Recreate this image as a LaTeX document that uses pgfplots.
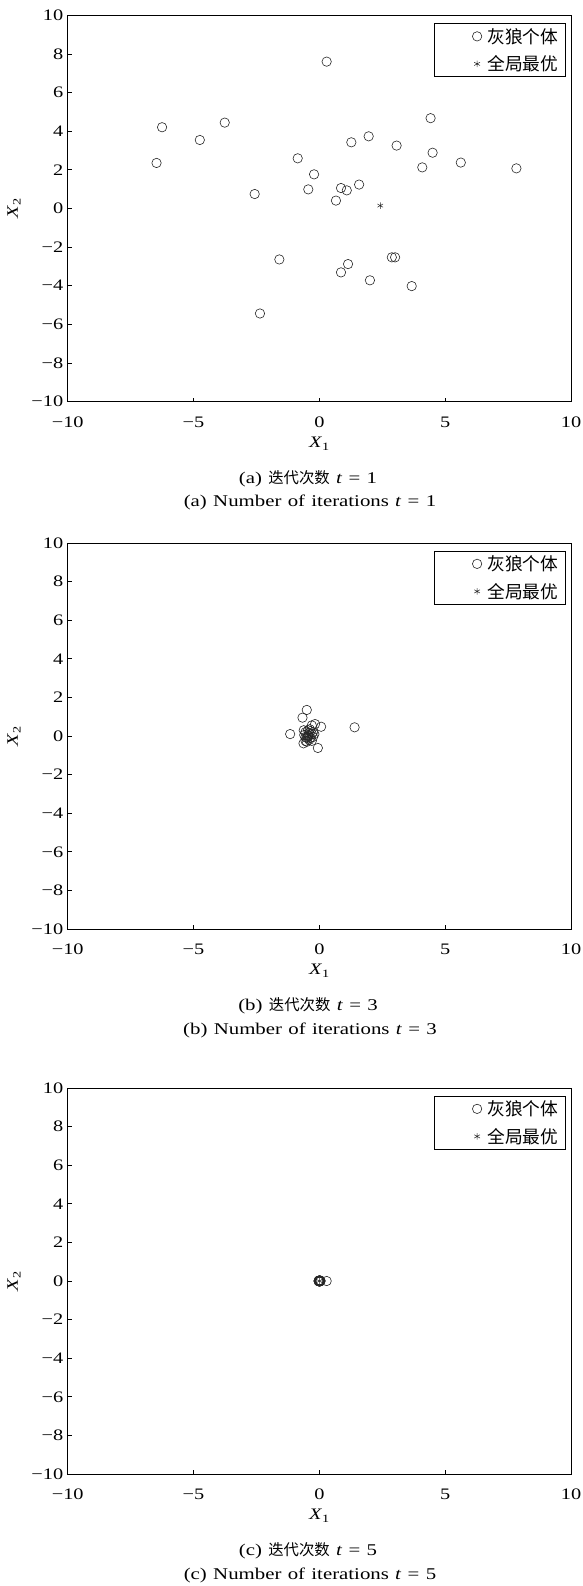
\documentclass[border=0pt]{standalone}
\usepackage{fontspec}
\setmainfont{Liberation Serif}[FakeStretch=1.27]
\newfontfamily\cjk{Noto Sans CJK SC}
\usepackage{pgfplots}
\pgfplotsset{compat=1.18}
\newcommand{\fs}{\fontsize{16}{19}\selectfont}
\newcommand{\cj}[1]{{\fontsize{15.4}{19}\selectfont\cjk #1}}
\newcommand{\capfont}{\fontsize{16.4}{19}\selectfont\spaceskip=6.3pt\relax}
\pgfplotsset{
  wolf/.style={
    scale only axis,
    width=503.3pt, height=386pt,
    xmin=-10, xmax=10, ymin=-10, ymax=10,
    xtick={-10,-5,0,5,10},
    xticklabels={−10,−5,0,5,10},
    ytick={-10,-8,-6,-4,-2,0,2,4,6,8,10},
    yticklabels={−10,−8,−6,−4,−2,0,2,4,6,8,10},
    tick align=inside,
    tick pos=left,
    major tick length=4pt,
    tick style={black, line width=0.8pt},
    axis line style={line width=0.9pt},
    ticklabel style={font=\fs},
    xticklabel style={yshift=-11.5pt},
    yticklabel style={xshift=-1pt},
    xlabel={\textit{X}\textsubscript{1}},
    ylabel={\textit{X}\textsubscript{2}},
    every axis x label/.style={at={(axis description cs:0.5,0)}, anchor=center, yshift=-42pt, font=\fs},
    every axis y label/.style={at={(axis description cs:-0.1067,0.5)}, anchor=center, rotate=90, font=\fs},
    legend style={at={(axis description cs:0.9895,0.98)}, anchor=north east,
      draw=black, line width=0.8pt, font=\fontsize{17.7}{20}\selectfont\cjk,
      inner xsep=5pt, inner ysep=2.5pt, row sep=7pt},
    legend cell align=left,
    legend image code/.code={%
      \path (0pt,0pt) (45pt,0pt);
      \draw[##1] plot coordinates {(37pt,0pt)};},
  },
  wolfmark/.style={only marks, mark=o, mark size=4.7pt, black!85, mark options={line width=0.6pt}},
  bestmark/.style={only marks, mark=asterisk, mark size=3.3pt, black!85, mark options={line width=0.5pt}},
}
\begin{document}
\begin{tikzpicture}[x=1pt,y=1pt]
\useasboundingbox (0,0) rectangle (582,-1586);
% ---------------- (a)
\begin{axis}[wolf, at={(67.7pt,-15.5pt)}, anchor=north west]
\addplot[wolfmark] coordinates {
(0.29,7.61) (-6.25,4.21) (-4.75,3.55) (-3.76,4.45) (-6.47,2.36)
(-0.86,2.60) (-0.21,1.77) (-2.57,0.75) (-0.44,0.99) (0.86,1.06)
(1.09,0.94) (0.66,0.41) (1.58,1.24) (1.27,3.43) (1.96,3.74)
(3.07,3.26) (4.42,4.68) (4.50,2.89) (4.09,2.13) (5.62,2.38)
(7.83,2.08) (-1.59,-2.64) (-2.36,-5.44) (2.88,-2.53) (3.01,-2.53)
(1.14,-2.88) (0.86,-3.31) (2.01,-3.72) (3.67,-4.02)
};
\addlegendentry{灰狼个体}
\addplot[bestmark] coordinates {(2.42,0.15)};
\addlegendentry{全局最优}
\end{axis}
% ---------------- (b)
\begin{axis}[wolf, at={(67.7pt,-543pt)}, anchor=north west]
\addplot[wolfmark] coordinates {
(-0.50,1.35) (-0.67,0.95) (-1.16,0.10) (1.40,0.45) (-0.06,-0.62)
(0.07,0.48) (-0.17,0.62) (-0.30,0.55) (-0.63,-0.38)
(-0.55,0.20) (-0.45,0.30) (-0.35,0.25) (-0.30,0.10) (-0.50,-0.10)
(-0.40,-0.20) (-0.55,-0.25) (-0.25,-0.05) (-0.45,0.05) (-0.35,-0.10)
(-0.60,0.05) (-0.25,0.20) (-0.40,0.15) (-0.50,-0.30) (-0.30,-0.25)
(-0.45,-0.05) (-0.20,0.10) (-0.62,0.30) (-0.38,0.35) (-0.55,-0.05)
(-0.42,0.00)
};
\addlegendentry{灰狼个体}
\addplot[bestmark] coordinates {(-0.42,0.02)};
\addlegendentry{全局最优}
\end{axis}
% ---------------- (c)
\begin{axis}[wolf, at={(67.7pt,-1088pt)}, anchor=north west]
\addplot[wolfmark] coordinates {
(0.00,0.00) (0.02,0.01) (-0.02,0.00) (0.01,-0.02) (-0.01,0.02)
(0.03,0.00) (0.00,0.03) (-0.03,-0.01) (0.02,-0.01) (0.00,-0.02)
(-0.02,0.02) (0.01,0.01) (0.04,0.02) (-0.01,-0.01) (0.02,0.03)
(0.00,0.01) (-0.02,-0.02) (0.03,-0.02) (0.01,0.00) (-0.01,0.00)
(0.00,-0.01) (0.02,0.02) (-0.03,0.01) (0.01,-0.03) (0.05,0.00)
(0.00,0.02) (-0.02,0.01) (0.03,0.01) (0.29,0.00)
};
\addlegendentry{灰狼个体}
\addplot[bestmark] coordinates {(0.00,0.00)};
\addlegendentry{全局最优}
\end{axis}
% captions
\node at (308,-478.5) {\capfont (a) \cj{迭代次数} \textit{t} = 1};
\node at (310,-502.5) {\capfont (a) Number of iterations \textit{t} = 1};
\node at (308,-1006) {\capfont (b) \cj{迭代次数} \textit{t} = 3};
\node at (310,-1030) {\capfont (b) Number of iterations \textit{t} = 3};
\node at (308,-1551) {\capfont (c) \cj{迭代次数} \textit{t} = 5};
\node at (310,-1575) {\capfont (c) Number of iterations \textit{t} = 5};
\end{tikzpicture}
\end{document}
